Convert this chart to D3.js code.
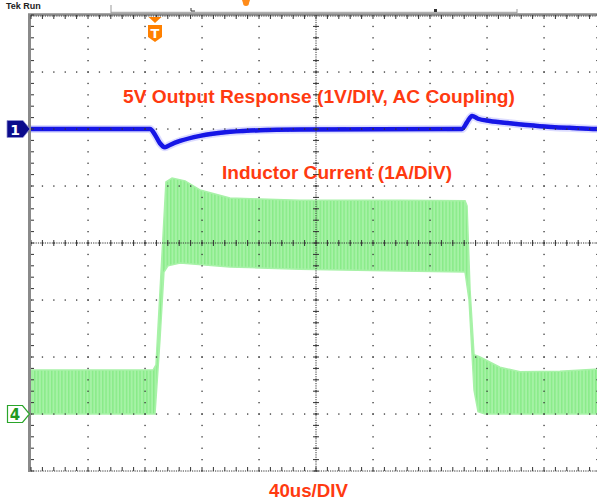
<!DOCTYPE html>
<html>
<head>
<meta charset="utf-8">
<script src="https://cdn.jsdelivr.net/npm/d3@7"></script>
<style>
  html, body { margin: 0; padding: 0; background: #fff; }
  svg { display: block; }
  .label { font-family: "Liberation Sans", Arial, sans-serif; font-weight: bold; fill: #ff3a10; }
</style>
</head>
<body>
<div id="scope"></div>
<script>
// ---- data (read off the scope capture) ----
// time base: 40 us/div, 10 divisions
const timeDomain = [0, 400]; // us
// channel 1: 5V output, AC coupled, 1 V/div, ground marker at +2 div
const ch1Time = [0, 83.5, 87, 90.5, 94, 97.5, 104.6, 118.6, 139.6, 160.7, 188.8, 301, 302.5, 306, 309.5, 313.7, 322, 336, 357, 378, 397, 400];
const ch1Volts = [0, 0, -0.1, -0.25, -0.32, -0.28, -0.21, -0.12, -0.05, -0.02, -0.01, 0, 0, 0.12, 0.23, 0.18, 0.14, 0.1, 0.05, 0.02, 0, 0];
// channel 4: inductor current, 1 A/div, ground marker at -3 div (ripple envelope)
const ch4UpperTime = [0, 85.6, 87.7, 94.7, 99, 108.1, 118.6, 139.6, 188.8, 259, 304.6, 306, 308.1, 310.9, 315.1, 329.1, 343.2, 371.2, 400];
const ch4UpperAmps = [0.77, 0.77, 0.86, 4.07, 4.14, 4.09, 3.93, 3.79, 3.75, 3.75, 3.74, 3.65, 2.18, 1.04, 1.0, 0.82, 0.74, 0.75, 0.79];
const ch4LowerTime = [0, 87, 90.5, 93.3, 96.1, 104.6, 139.6, 188.8, 259, 304.6, 307.4, 310.9, 313.7, 318.6, 400];
const ch4LowerAmps = [0, 0, 1.3, 2.49, 2.6, 2.65, 2.58, 2.54, 2.51, 2.49, 2.0, 0.42, 0.04, 0, 0];
const ch1Offset = 2;   // divisions
const ch4Offset = -3;  // divisions
const labels = ["5V Output Response (1V/DIV, AC Coupling)", "Inductor Current (1A/DIV)", "40us/DIV"];

const W = 597, H = 504;
const plot = { left: 31, top: 15, right: 601, bottom: 471 };

const svg = d3.select("#scope").append("svg").attr("width", W).attr("height", H);

const x = d3.scaleLinear().domain(timeDomain).range([plot.left, plot.right]);
const y = d3.scaleLinear().domain([-4, 4]).range([plot.bottom, plot.top]); // divisions
const yCh1 = v => y(ch1Offset + v);
const yCh4 = a => y(ch4Offset + a);
const xDiv = d3.scaleLinear().domain([0, 10]).range([plot.left, plot.right]);

const defs = svg.append("defs");
const pat = defs.append("pattern").attr("id", "ripple")
  .attr("patternUnits", "userSpaceOnUse").attr("width", 3.4).attr("height", 10);
pat.append("rect").attr("width", 3.4).attr("height", 10).attr("fill", "#a6f2a6");
pat.append("rect").attr("width", 1.4).attr("height", 10).attr("fill", "#88eb88");
defs.append("filter").attr("id", "soft")
  .append("feGaussianBlur").attr("stdDeviation", 0.6);
defs.append("clipPath").attr("id", "clip")
  .append("rect").attr("x", plot.left).attr("y", plot.top)
  .attr("width", plot.right - plot.left).attr("height", plot.bottom - plot.top);

// header strip (clipped at top of capture)
svg.append("text").attr("x", 6).attr("y", 9)
  .style("font", "bold 9px 'Liberation Sans', Arial").attr("fill", "#222").text("Tek Run");
svg.append("line").attr("x1", 111).attr("x2", 517).attr("y1", 12.5).attr("y2", 12.5)
  .attr("stroke", "#b0b0b0").attr("stroke-width", 1.5);
svg.append("line").attr("x1", 111).attr("x2", 111).attr("y1", 5).attr("y2", 13).attr("stroke", "#999");
svg.append("line").attr("x1", 517).attr("x2", 517).attr("y1", 9).attr("y2", 13).attr("stroke", "#999");
svg.append("path").attr("d", "M191,8 v3 h4").attr("fill", "none").attr("stroke", "#333");
svg.append("path").attr("d", "M434,9 h3 v3 h-3z").attr("fill", "#333");
svg.append("path").attr("d", "M242,0 h8 l-1,3 a3,3 0 0 1 -6,0z").attr("fill", "#ff8c1a");

// ---- traces ----
const traces = svg.append("g").attr("clip-path", "url(#clip)");

const envelope = ch4UpperTime.map((t, i) => [x(t), yCh4(ch4UpperAmps[i])])
  .concat(ch4LowerTime.map((t, i) => [x(t), yCh4(ch4LowerAmps[i])]).reverse());
traces.append("path")
  .attr("d", d3.line().curve(d3.curveLinearClosed)(envelope))
  .attr("fill", "url(#ripple)").attr("stroke", "#a8f2a8").attr("stroke-width", 1.5)
  .attr("filter", "url(#soft)");

const ch1Line = d3.line().curve(d3.curveMonotoneX)
  .x((d, i) => x(ch1Time[i])).y(d => yCh1(d));
traces.append("path").attr("d", ch1Line(ch1Volts))
  .attr("fill", "none").attr("stroke", "#8a8aff").attr("stroke-width", 8).attr("opacity", 0.3);
traces.append("path").attr("d", ch1Line(ch1Volts))
  .attr("fill", "none").attr("stroke", "#1414e6").attr("stroke-width", 4.5).attr("filter", "url(#soft)");

// ---- graticule ----
const grid = svg.append("g").attr("fill", "#333");
const minorX = d3.range(0, 50.001, 1).map(k => xDiv(k / 5));
const minorY = d3.range(-20, 20.001, 1).map(k => y(k / 5));
const majorX = d3.range(1, 10).map(k => xDiv(k));
const majorY = d3.range(-3, 4).map(k => y(k));

// dots along major lines
majorY.forEach(py => minorX.forEach(px => {
  grid.append("rect").attr("x", px - 0.6).attr("y", py - 0.6).attr("width", 1.3).attr("height", 1.3);
}));
majorX.forEach(px => minorY.forEach(py => {
  grid.append("rect").attr("x", px - 0.6).attr("y", py - 0.6).attr("width", 1.3).attr("height", 1.3);
}));

// center cross: fine dotted line with small ticks
const cx = xDiv(5), cy = y(0);
grid.append("line").attr("x1", plot.left).attr("x2", plot.right).attr("y1", cy).attr("y2", cy)
  .attr("stroke", "#333").attr("stroke-width", 1).attr("stroke-dasharray", "1.2,1.1");
grid.append("line").attr("x1", cx).attr("x2", cx).attr("y1", plot.top).attr("y2", plot.bottom)
  .attr("stroke", "#333").attr("stroke-width", 1).attr("stroke-dasharray", "1.2,1.1");
minorX.forEach(px => grid.append("line").attr("x1", px).attr("x2", px).attr("y1", cy - 3).attr("y2", cy + 3)
  .attr("stroke", "#333").attr("stroke-width", 1));
minorY.forEach(py => grid.append("line").attr("x1", cx - 3).attr("x2", cx + 3).attr("y1", py).attr("y2", py)
  .attr("stroke", "#333").attr("stroke-width", 1));

// border
svg.append("line").attr("x1", plot.left - 3).attr("x2", W).attr("y1", plot.top - 0.5).attr("y2", plot.top - 0.5)
  .attr("stroke", "#8a8a8a").attr("stroke-width", 2.5);
svg.append("line").attr("x1", plot.left - 1.5).attr("x2", plot.left - 1.5).attr("y1", plot.top - 1).attr("y2", plot.bottom + 1)
  .attr("stroke", "#8a8a8a").attr("stroke-width", 3);
svg.append("line").attr("x1", plot.left).attr("x2", W).attr("y1", plot.bottom).attr("y2", plot.bottom)
  .attr("stroke", "#333").attr("stroke-width", 1).attr("stroke-dasharray", "1.2,1.1");
svg.append("line").attr("x1", plot.left).attr("x2", W).attr("y1", plot.top + 1).attr("y2", plot.top + 1)
  .attr("stroke", "#333").attr("stroke-width", 1).attr("stroke-dasharray", "1.2,1.1");
minorX.forEach(px => {
  svg.append("line").attr("x1", px).attr("x2", px).attr("y1", plot.top).attr("y2", plot.top + 4)
    .attr("stroke", "#333").attr("stroke-width", 1);
  svg.append("line").attr("x1", px).attr("x2", px).attr("y1", plot.bottom - 4).attr("y2", plot.bottom)
    .attr("stroke", "#333").attr("stroke-width", 1);
});
minorY.forEach(py => {
  svg.append("line").attr("x1", plot.left).attr("x2", plot.left + 3).attr("y1", py).attr("y2", py)
    .attr("stroke", "#333").attr("stroke-width", 1);
  svg.append("line").attr("x1", plot.right - 5).attr("x2", plot.right).attr("y1", py).attr("y2", py)
    .attr("stroke", "#555").attr("stroke-width", 1);
});

// ---- markers ----
// trigger position marker
const tx = 155;
svg.append("path").attr("d", `M${tx - 6.5},17 h13 l-6.5,6z`).attr("fill", "#ff8000");
svg.append("path").attr("d", `M${tx - 7},25 h14 v12 l-7,5 l-7,-5z`).attr("fill", "#ff8000");
svg.append("text").attr("x", tx).attr("y", 37.5).attr("text-anchor", "middle")
  .style("font", "bold 13px 'DejaVu Sans', sans-serif").attr("fill", "#fff").text("T");

// channel 1 ground marker
const g1 = yCh1(0);
svg.append("path").attr("d", `M7,${g1 - 8.5} h16 l7,8.5 l-7,8.5 h-16z`)
  .attr("fill", "#0b0b8c").attr("stroke", "#8f8fd0").attr("stroke-width", 0.8);
svg.append("text").attr("x", 15).attr("y", g1 + 5.5).attr("text-anchor", "middle")
  .style("font", "bold 14px 'DejaVu Sans', sans-serif").attr("fill", "#fff").text("1");

// channel 4 ground marker
const g4 = yCh4(0);
svg.append("path").attr("d", `M7.5,${g4 - 8.5} h15 l7,8.5 l-7,8.5 h-15z`)
  .attr("fill", "#fff").attr("stroke", "#2aa52a").attr("stroke-width", 1.2);
svg.append("text").attr("x", 15).attr("y", g4 + 6).attr("text-anchor", "middle")
  .style("font", "bold 15px 'DejaVu Sans', sans-serif").attr("fill", "#1f9a1f").text("4");

// ---- annotations ----
svg.append("text").attr("class", "label").attr("x", 123).attr("y", 103).style("font-size", "18px")
  .attr("textLength", 392).attr("lengthAdjust", "spacingAndGlyphs").text(labels[0]);
svg.append("text").attr("class", "label").attr("x", 222).attr("y", 179).style("font-size", "17.5px")
  .attr("textLength", 230).attr("lengthAdjust", "spacingAndGlyphs").text(labels[1]);
svg.append("text").attr("class", "label").attr("x", 269).attr("y", 497).style("font-size", "17.5px")
  .attr("textLength", 79).attr("lengthAdjust", "spacingAndGlyphs").text(labels[2]);
</script>
</body>
</html>
